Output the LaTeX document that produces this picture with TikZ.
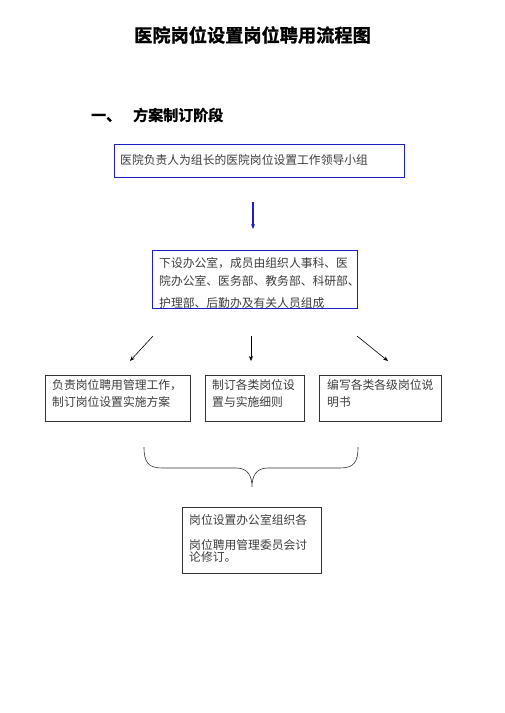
\documentclass[tikz,border=0pt]{standalone}
\usepackage{fontspec}
\setmainfont{Noto Sans CJK SC}
\newfontfamily\cjk{Noto Sans CJK SC}
\newfontfamily\cjkbold[FakeBold=1.2]{Noto Sans CJK SC Bold}
\usetikzlibrary{arrows.meta}
\definecolor{boxblue}{RGB}{30,30,200}
\definecolor{txtgray}{RGB}{60,60,60}
\tikzset{
  bluebox/.style={draw=boxblue, line width=1.2pt, inner sep=0pt},
  blackbox/.style={draw=black!80, line width=0.8pt, inner sep=0pt},
  boxtext/.style={anchor=north west, inner sep=0pt, align=left, text=txtgray,
    font=\cjk\fontsize{11.8}{17}\selectfont},
  arr/.style={-{Stealth[length=5pt,width=4pt]}, line width=0.6pt, black},
  bluearr/.style={-{Stealth[length=5pt,width=4pt]}, line width=1.3pt, boxblue},
}
\begin{document}
\begin{tikzpicture}[x=1pt,y=-1pt]
\useasboundingbox (0,0) rectangle (504,713);
% title
\node[font=\cjkbold\fontsize{18.2}{20}\selectfont, inner sep=0pt] (title) at (252.5,35) {医院岗位设置岗位聘用流程图};
\node[font=\cjkbold\fontsize{15}{17}\selectfont, inner sep=0pt, anchor=west] (sec) at (91,115) {一、\hspace{12pt}方案制订阶段};
% box 1
\node[bluebox, minimum width=290pt, minimum height=33pt, anchor=north west] (b1) at (114,144) {};
\node[boxtext, anchor=west] (t1) at (120,160) {医院负责人为组长的医院岗位设置工作领导小组};
% box 2
\node[bluebox, line width=0.8pt, minimum width=205pt, minimum height=58pt, anchor=north west] (b2) at (152,250) {};
\node[boxtext, font=\cjk\fontsize{11.8}{18}\selectfont] (t2) at (159,257) {下设办公室，成员由组织人事科、医\\院办公室、医务部、教务部、科研部、\\[4pt]护理部、后勤办及有关人员组成};
% blue arrow
\coordinate (a0s) at (253,202);
\coordinate (a0e) at (253,229);
\draw[bluearr] (a0s) -- (a0e);
% lower boxes
\node[blackbox, minimum width=145pt, minimum height=46pt, anchor=north west] (b3) at (45,375) {};
\node[boxtext] (t3) at (52,379) {负责岗位聘用管理工作，\\制订岗位设置实施方案};
\node[blackbox, minimum width=99pt, minimum height=46pt, anchor=north west] (b4) at (205,375) {};
\node[boxtext] (t4) at (212,379) {制订各类岗位设\\置与实施细则};
\node[blackbox, minimum width=122pt, minimum height=46pt, anchor=north west] (b5) at (319,375) {};
\node[boxtext] (t5) at (327,379) {编写各类各级岗位说\\明书};
% arrows
\coordinate (l1) at (153,336); \coordinate (l2) at (130,361);
\coordinate (m1) at (251,336); \coordinate (m2) at (251,361);
\coordinate (r1) at (357,336); \coordinate (r2) at (388,361);
\draw[arr] (l1) -- (l2);
\draw[arr] (m1) -- (m2);
\draw[arr] (r1) -- (r2);
% brace
\coordinate (bl) at (144,447);
\coordinate (br) at (358,447);
\coordinate (bt) at (252,487);
\draw[line width=0.6pt, black!80] (bl) .. controls (144,462) and (148,468) .. (162,468)
  -- (236,468) .. controls (248,468) and (252,476) .. (bt)
  .. controls (252,476) and (256,468) .. (268,468)
  -- (340,468) .. controls (354,468) and (358,462) .. (br);
% box 6
\node[blackbox, minimum width=139pt, minimum height=66pt, anchor=north west] (b6) at (182,507) {};
\node[boxtext, anchor=west] (t6a) at (189,520) {岗位设置办公室组织各};
\node[boxtext, anchor=north west, font=\cjk\fontsize{11.8}{12}\selectfont] (t6b) at (189,539) {岗位聘用管理委员会讨\\论修订。};
\end{tikzpicture}
\end{document}
